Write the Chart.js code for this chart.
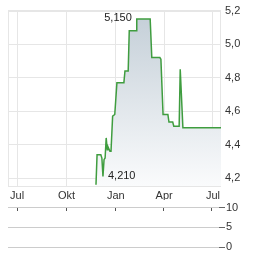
<!DOCTYPE html>
<html lang="de">
<head>
  <meta charset="UTF-8" />
  <title>Kursverlauf</title>
  <script src="https://cdn.jsdelivr.net/npm/chart.js"></script>
  <style>
    body { margin: 0; background: #fff; width: 264px; height: 255px; overflow: hidden; }
    #kurs { position: absolute; left: 0; top: 0; }
    #volumen { position: absolute; left: 0; top: 200px; }
  </style>
</head>
<body>
  <canvas id="kurs" width="264" height="200"></canvas>
  <canvas id="volumen" width="264" height="55"></canvas>

  <script>
    // Kursdaten
    const dates = [
      '2024-11-25', '2024-11-27', '2024-12-04', '2024-12-06', '2024-12-08', '2024-12-10',
      '2024-12-12', '2024-12-14', '2024-12-16', '2024-12-17', '2024-12-21', '2024-12-23',
      '2024-12-26', '2024-12-30', '2025-01-03', '2025-01-16', '2025-01-18', '2025-01-24',
      '2025-01-26', '2025-02-08', '2025-02-09', '2025-03-06', '2025-03-09', '2025-03-24',
      '2025-03-26', '2025-03-30', '2025-04-08', '2025-04-10', '2025-04-17', '2025-04-19',
      '2025-04-29', '2025-05-01', '2025-05-02', '2025-05-06', '2025-07-16'
    ];
    const prices = [
      4.16, 4.34, 4.34, 4.32, 4.21, 4.31,
      4.32, 4.44, 4.37, 4.39, 4.36, 4.36,
      4.57, 4.58, 4.77, 4.77, 4.84, 4.84,
      5.08, 5.08, 5.15, 5.15, 4.92, 4.92,
      4.91, 4.58, 4.58, 4.535, 4.535, 4.51,
      4.51, 4.85, 4.85, 4.50, 4.50
    ];

    const xRange = ['2024-06-14', '2025-07-16'];
    const xTickDates = ['2024-07-01', '2024-10-01', '2025-01-01', '2025-04-01', '2025-07-01'];
    const xTickLabels = ['Jul', 'Okt', 'Jan', 'Apr', 'Jul'];

    const yRange = [4.153, 5.2];
    const yTicks = [4.2, 4.4, 4.6, 4.8, 5.0, 5.2];
    const yTickLabels = ['4,2', '4,4', '4,6', '4,8', '5,0', '5,2'];

    const volTicks = [0, 5, 10];
    const volTickLabels = ['0', '5', '10'];

    // Hoch / Tief Beschriftung
    const markDates = ['2025-02-09', '2024-12-08'];
    const markValues = [5.15, 4.21];
    const markTexts = ['5,150', '4,210'];

    function tag(s) {
      const [y, m, d] = s.split('-').map(Number);
      return (Date.UTC(y, m - 1, d) - Date.UTC(2024, 6, 1)) / 864e5;
    }

    const gridFarbe = '#e6e6e6';
    const textFarbe = '#333';
    const schrift = { family: "'Liberation Sans', Arial, sans-serif", size: 11 };

    const rahmen = {
      id: 'rahmen',
      beforeDatasetsDraw(chart) {
        const a = chart.chartArea, ctx = chart.ctx;
        ctx.save();
        ctx.strokeStyle = gridFarbe;
        ctx.lineWidth = 1;
        ctx.strokeRect(Math.round(a.left) + 0.5, Math.round(a.top) + 0.5,
          Math.round(a.right - a.left) - 1, Math.round(a.bottom - a.top));
        ctx.restore();
      }
    };

    const markierung = {
      id: 'markierung',
      afterDatasetsDraw(chart) {
        const ctx = chart.ctx, x = chart.scales.x, y = chart.scales.y;
        ctx.save();
        ctx.font = "11px 'Liberation Sans', Arial, sans-serif";
        ctx.fillStyle = '#222';
        ctx.textBaseline = 'middle';
        markTexts.forEach((t, i) => {
          const px = x.getPixelForValue(tag(markDates[i]));
          const py = y.getPixelForValue(markValues[i]);
          if (i === 0) { ctx.textAlign = 'right'; ctx.fillText(t, px - 5, py - 1); }
          else { ctx.textAlign = 'left'; ctx.fillText(t, px + 5, py); }
        });
        ctx.restore();
      }
    };

    new Chart(document.getElementById('kurs'), {
      type: 'line',
      data: {
        datasets: [{
          data: dates.map((d, i) => ({ x: tag(d), y: prices[i] })),
          borderColor: '#3f9d3f',
          borderWidth: 1.5,
          pointRadius: 0,
          tension: 0,
          fill: 'start',
          backgroundColor(c) {
            const a = c.chart.chartArea;
            if (!a) return 'rgba(200,210,218,0.8)';
            const g = c.chart.ctx.createLinearGradient(0, a.top, 0, a.bottom);
            g.addColorStop(0, '#c3ced7');
            g.addColorStop(1, '#fafbfc');
            return g;
          }
        }]
      },
      options: {
        responsive: false,
        animation: false,
        layout: { padding: { left: 8, top: 8, right: 0, bottom: 0 } },
        plugins: { legend: { display: false }, tooltip: { enabled: false } },
        scales: {
          x: {
            type: 'linear',
            min: tag(xRange[0]),
            max: tag(xRange[1]),
            afterBuildTicks(s) { s.ticks = xTickDates.map(d => ({ value: tag(d) })); },
            afterFit(s) { s.height = 14; },
            grid: { color: gridFarbe, drawTicks: false },
            border: { display: false },
            ticks: {
              color: textFarbe, font: schrift, padding: 3, maxRotation: 0, autoSkip: false,
              callback(v, i) { return xTickLabels[i]; }
            }
          },
          y: {
            position: 'right',
            min: yRange[0],
            max: yRange[1],
            afterBuildTicks(s) { s.ticks = yTicks.map(v => ({ value: v })); },
            afterFit(s) { s.width = 43; },
            grid: { color: gridFarbe, drawTicks: false },
            border: { display: false },
            ticks: {
              color: textFarbe, font: schrift, padding: 4,
              callback(v, i) { return yTickLabels[i]; }
            }
          }
        }
      },
      plugins: [rahmen, markierung]
    });

    const striche = {
      id: 'striche',
      afterDraw(chart) {
        const ctx = chart.ctx, x = chart.scales.x, a = chart.chartArea;
        ctx.save();
        ctx.fillStyle = '#555';
        xTickDates.forEach(d => {
          const px = Math.round(x.getPixelForValue(tag(d)));
          ctx.fillRect(px, Math.round(a.top), 1, 3);
        });
        ctx.restore();
      }
    };

    new Chart(document.getElementById('volumen'), {
      type: 'bar',
      data: { datasets: [{ data: [], backgroundColor: '#999' }] },
      options: {
        responsive: false,
        animation: false,
        layout: { padding: { left: 8, top: 7, right: 0, bottom: 8 } },
        plugins: { legend: { display: false }, tooltip: { enabled: false } },
        scales: {
          x: {
            type: 'linear',
            display: false,
            offset: false,
            min: tag(xRange[0]),
            max: tag(xRange[1])
          },
          y: {
            position: 'right',
            min: 0,
            max: 10,
            afterBuildTicks(s) { s.ticks = volTicks.map(v => ({ value: v })); },
            afterFit(s) { s.width = 45; },
            grid: { color: '#cccccc', tickLength: 6, tickColor: '#666' },
            border: { display: false },
            ticks: {
              color: textFarbe, font: schrift, padding: 1,
              callback(v, i) { return volTickLabels[i]; }
            }
          }
        }
      },
      plugins: [striche]
    });
  </script>
</body>
</html>
